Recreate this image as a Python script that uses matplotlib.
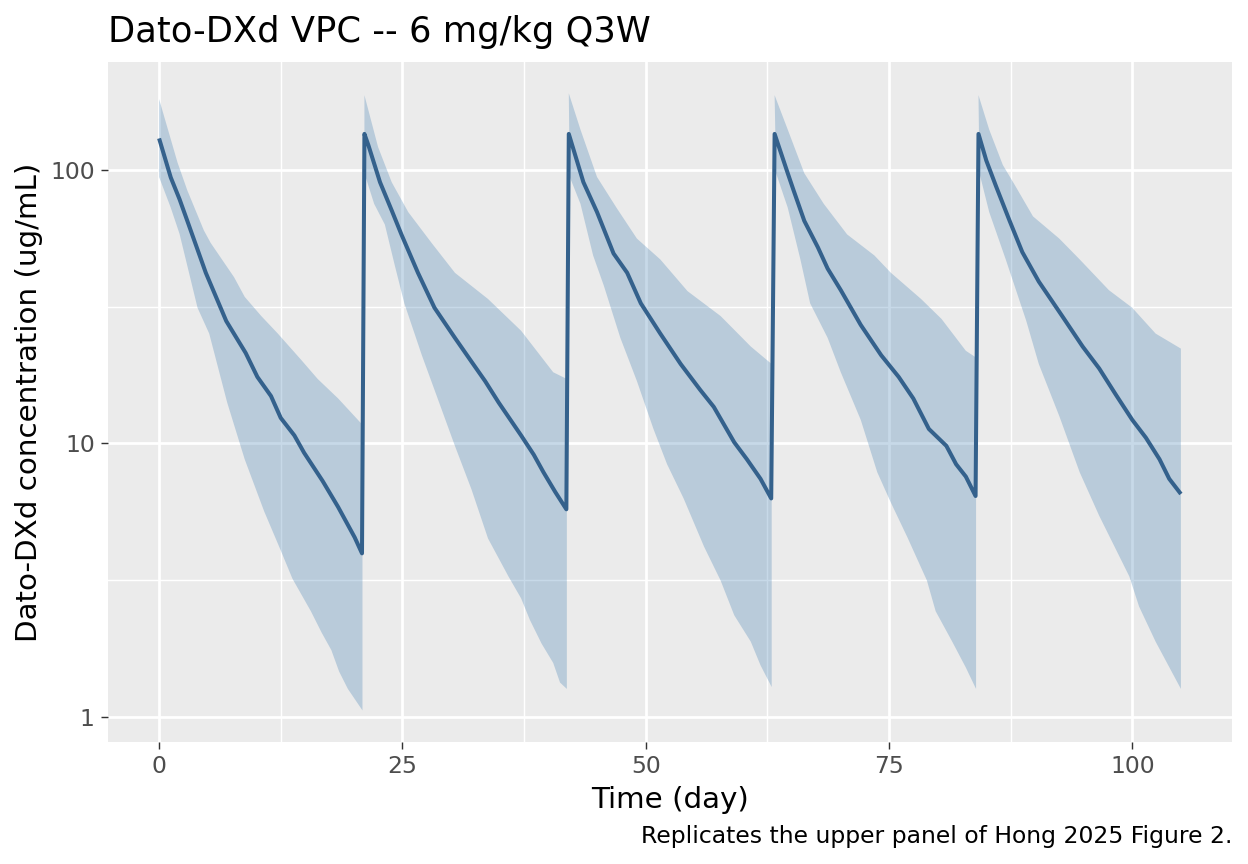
import numpy as np
import matplotlib.pyplot as plt

# values (day, ug/mL)
dose_days = [0, 21, 42, 63, 84]

med_t = [0, 1.2, 2.1, 2.9, 4.8, 6.9, 8.9, 10.1, 11.5, 12.5, 13.9, 14.9, 16.8, 18.4, 20.1, 20.85,
         21.1, 21.5, 22.7, 23.9, 24.9, 26.6, 28.3, 30.4, 32.1, 33.5, 34.9, 37.2, 38.5, 39.5, 40.7, 41.85,
         42.1, 43.6, 45.0, 46.7, 48.1, 49.5, 51.5, 53.6, 55.6, 57.0, 59.1, 60.4, 61.8, 62.9,
         63.25, 64.6, 65.2, 66.3, 67.7, 68.7, 70.05, 72.1, 74.2, 76.0, 77.5, 79.1, 80.9, 81.9, 82.9, 83.9,
         84.2, 85.0, 86.0, 87.4, 88.7, 90.4, 92.8, 94.9, 96.6, 98.3, 100.0, 101.4, 102.8, 103.8, 105.0]
med_c = [130, 93.6, 78, 65, 42, 28, 21.4, 17.5, 14.9, 12.4, 10.7, 9.25, 7.3, 5.86, 4.54, 3.97,
         135, 123, 90, 71, 58, 42, 31.3, 24.3, 19.9, 16.9, 14.1, 10.7, 9.1, 7.85, 6.66, 5.75,
         135, 90, 70, 49.4, 42, 32.5, 25.2, 19.5, 15.7, 13.6, 10.1, 8.76, 7.43, 6.3,
         135, 97, 84, 65, 52, 43.5, 36.3, 27.1, 21, 17.5, 14.6, 11.3, 9.8, 8.4, 7.57, 6.43,
         135, 108, 87, 65, 50, 39, 29.2, 22.6, 18.8, 15.1, 12.2, 10.5, 8.76, 7.43, 6.54]

hi_t = [0, 1.9, 2.9, 4.6, 5.3, 7.7, 8.8, 10.5, 12.2, 14.6, 16.3, 18.4, 20.9,
        21.1, 22.5, 23.9, 25.6, 28.0, 30.4, 33.8, 37.2, 40.5, 41.9,
        42.1, 43.3, 45.0, 47.0, 49.1, 51.5, 54.3, 57.7, 60.8, 62.95,
        63.25, 64.6, 66.3, 68.3, 70.7, 73.5, 75.2, 78.3, 80.4, 82.9, 83.95,
        84.2, 85.3, 86.7, 88.0, 89.8, 92.5, 94.6, 97.6, 100.0, 102.4, 105.0]
hi_c = [181, 106, 84, 60, 54, 40.5, 34.3, 29.2, 25.2, 20.2, 17.2, 14.6, 11.7,
        187, 121, 90, 70, 54, 42, 33.7, 25.8, 18.2, 17.2,
        190, 140, 94, 72.6, 56, 47, 36, 29.2, 22.6, 19.5,
        187, 140, 97, 75, 58, 48.6, 42, 33.7, 28.5, 21.8, 20.6,
        187, 140, 104, 87, 67.5, 56, 47, 36.3, 31.3, 25.2, 22.2]

lo_t = [0, 1.2, 2.1, 3.95, 5.15, 7.0, 8.8, 10.8, 12.5, 13.7, 15.6, 16.7, 17.7, 18.5, 19.4, 20.9,
        21.1, 22.1, 23.2, 24.2, 25.2, 27.0, 28.3, 30.4, 32.1, 33.8, 35.9, 37.2, 38.1, 39.3, 40.5, 41.2, 41.9,
        42.2, 43.3, 44.6, 45.7, 47.4, 49.1, 50.8, 52.2, 53.9, 56.0, 57.7, 59.1, 60.8, 61.8, 62.95,
        63.4, 64.6, 65.9, 66.9, 68.7, 70.05, 72.1, 73.8, 75.2, 76.9, 78.9, 79.8, 81.5, 82.9, 83.95,
        84.3, 85.3, 87.0, 89.1, 90.4, 92.5, 94.6, 96.6, 99.7, 100.7, 102.4, 105.0]
lo_c = [94, 72.6, 58.3, 31.3, 25.2, 14.1, 8.75, 5.65, 4.07, 3.21, 2.44, 2.04, 1.76, 1.47, 1.27, 1.06,
        97, 75, 63, 45, 32.5, 21, 15.7, 9.8, 6.8, 4.5, 3.27, 2.72, 2.27, 1.86, 1.58, 1.34, 1.27,
        94, 75, 48.6, 37.7, 24.3, 16.9, 11.3, 8.4, 6.3, 4.2, 3.16, 2.36, 1.89, 1.55, 1.29,
        97, 72.6, 47, 32.5, 24.3, 18.2, 12.2, 7.85, 6.08, 4.54, 3.16, 2.44, 1.89, 1.52, 1.27,
        97, 70, 47, 28.1, 19.5, 12.6, 7.85, 5.45, 3.27, 2.54, 1.89, 1.27]

######### Plotting section #######
S = 192 / 100  # ggplot pt -> matplotlib pt at this size
plt.rcParams['font.family'] = 'DejaVu Sans'

fig = plt.figure(figsize=(12.48, 8.64), dpi=100)
ax = fig.add_axes([108/1248, 122/864, 1124/1248, 680/864])
ax.set_facecolor('#EBEBEB')

hi_t, hi_c, lo_t, lo_c = map(np.array, (hi_t, hi_c, lo_t, lo_c))
edges = dose_days[1:] + [1e9]
for start, stop in zip(dose_days, edges):
    mh = (hi_t >= start) & (hi_t < stop)
    ml = (lo_t >= start) & (lo_t < stop)
    xs = np.concatenate([hi_t[mh], lo_t[ml][::-1]])
    ys = np.concatenate([hi_c[mh], lo_c[ml][::-1]])
    ax.fill(xs, ys, color='steelblue', alpha=0.3, lw=0, zorder=2)

ax.plot(med_t, med_c, color='#34618C', lw=2.9, zorder=3, solid_capstyle='butt')

ax.set_yscale('log')
ax.set_xlim(-5.25, 110.25)
ax.set_ylim(10**-0.09, 10**2.393)
ax.set_xticks([0, 25, 50, 75, 100])
ax.set_xticks([12.5, 37.5, 62.5, 87.5], minor=True)
ax.set_yticks([1, 10, 100])
ax.set_yticklabels(['1', '10', '100'])
ax.set_yticks([10**0.5, 10**1.5], minor=True)
ax.yaxis.set_minor_formatter(plt.NullFormatter())

ax.grid(which='major', color='white', lw=1.07*S*0.5/0.5*0.95)
ax.grid(which='minor', color='white', lw=0.53*S)
ax.set_axisbelow(True)
for sp in ax.spines.values():
    sp.set_visible(False)

ax.tick_params(which='major', length=2.75*S, width=0.53*S, color='#333333',
               labelcolor='#4D4D4D', labelsize=8.8*S, pad=2.2*S)
ax.tick_params(which='minor', length=0)

ax.set_xlabel('Time (day)', fontsize=11*S, labelpad=2.75*S)
ax.set_ylabel('Dato-DXd concentration (ug/mL)', fontsize=11*S, labelpad=2.75*S)
fig.text(108/1248, 1 - 42/864, 'Dato-DXd VPC -- 6 mg/kg Q3W', fontsize=13.2*S,
         ha='left', va='baseline')
fig.text(1232/1248, 1 - 843/864, 'Replicates the upper panel of Hong 2025 Figure 2.',
         fontsize=8.8*S, ha='right', va='baseline')

fig.savefig('out.png', dpi=100)
